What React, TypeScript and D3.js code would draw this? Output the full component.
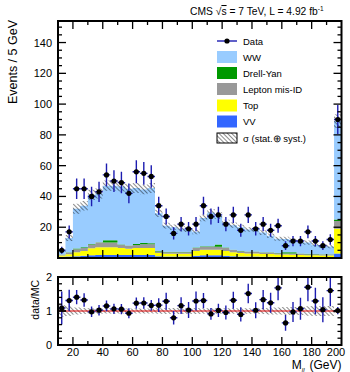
import React from 'react';
import * as d3 from 'd3';

// bin lower edges (5 GeV bins, last one 195-200)
const binLow = [10,15,20,25,30,35,40,45,50,55,60,65,70,75,80,85,90,95,100,105,110,115,120,125,130,135,140,145,150,155,160,165,170,175,180,185,190,195];
const binWidth = 5;

const dataCounts = [5,17,45,45,40,43,54,50,49,42,56,55,53,34,27,16,22,19,22,34,27,28,22,28,18,28,19,22,18,21,8,11,11,17,11,8,12,90];
const vvYield = [0.8,1,1.2,1.5,1.8,2,2,2,2,2,2,2,2,1.2,1,1,1,1,1.5,1.8,1.8,1.8,1.5,1.2,1,1,1,0.8,0.8,0.7,0.7,0.6,0.6,0.5,0.5,0.5,0.5,3];
const topYield = [0.8,1.5,2.5,3,4.5,5,5,5,4.5,4,4.5,4.5,4.5,2,1.8,1.8,1.8,1.8,3,3.5,3.5,3.5,3,2.5,2.2,2,2,1.8,1.8,1.6,1.5,1.5,1.4,1.3,1.3,1.2,1.2,16];
const misIdYield = [0.5,1,2,2,2.5,3,3,3,2,2,2,2.5,2.5,1,1,1,1,1,2,2,2,2,2,1.5,1.2,1,1,1,1,0.8,0.8,0.8,0.7,0.7,0.6,0.6,0.6,5];
const dyYield = [0.1,0.3,0.5,0.5,0.3,0.3,1.5,1.5,0.2,0.2,0.6,0.8,0.6,0.3,0.2,0.2,0.2,0.2,0.3,0.3,0.3,1.5,0.3,0.2,0.2,0.2,0.2,0.2,0.2,0.2,0.8,0.8,0.2,0.2,0.2,0.2,0.2,1];
const wwYield = [2.4,9.2,25.8,27,31.9,31.7,35.5,35.5,37.8,36.8,36.4,34.7,35.9,24.5,17,16,15,14.5,10.2,18.4,21.9,18.7,16.2,15.9,15.4,14.3,14.4,12.7,10.7,9.2,8.5,7.6,7.4,7.3,5.9,5.2,5.0,64];
const mcRelUnc = [0.17,0.15,0.1,0.09,0.08,0.08,0.07,0.07,0.07,0.07,0.07,0.07,0.07,0.08,0.09,0.09,0.09,0.09,0.09,0.08,0.08,0.08,0.08,0.08,0.08,0.08,0.08,0.09,0.1,0.1,0.12,0.12,0.12,0.14,0.15,0.15,0.15,0.05];

const xTickLabels = [20,40,60,80,100,120,140,160,180,200];
const yTickLabels = [20,40,60,80,100,120,140];
const ratioTickLabels = [0,1,2];

const processKeys = ['VV','Top','MisID','DY','WW'];
const processColors: Record<string,string> = {
  VV: '#3366ff', Top: '#ffff00', MisID: '#999999', DY: '#009900', WW: '#99ccff',
};
const legendLabels = ['Data','WW','Drell-Yan','Lepton mis-ID','Top','VV','σ (stat.⊕ syst.)'];
const legendKeys = ['Data','WW','DY','MisID','Top','VV','Unc'];

const FONT = '"Liberation Sans", Arial, Helvetica, sans-serif';
const ERR = '#1c1cb0';

export default function App() {
  const W = 350, H = 372;
  const L = 58, R = 341.5;
  const mainTop = 21, mainBot = 258;
  const ratTop = 277, ratBot = 345;

  const x = d3.scaleLinear().domain([10, 200]).range([L, R]);
  const y = d3.scaleLinear().domain([0, 154]).range([mainBot, mainTop]);
  const yr = d3.scaleLinear().domain([0, 2]).range([ratBot, ratTop]);

  const table = binLow.map((lo, i) => ({
    lo, hi: lo + binWidth,
    VV: vvYield[i], Top: topYield[i], MisID: misIdYield[i], DY: dyYield[i], WW: wwYield[i],
  }));
  const stacked = d3.stack<any>().keys(processKeys)(table);

  const stepArea = (lows: number[], highs: number[], ys: any) => {
    const pts: { x: number; a: number; b: number }[] = [];
    binLow.forEach((lo, i) => {
      pts.push({ x: lo, a: lows[i], b: highs[i] });
      pts.push({ x: lo + binWidth, a: lows[i], b: highs[i] });
    });
    return d3.area<any>().x(p => x(p.x)).y0(p => ys(p.a)).y1(p => ys(p.b))(pts) || '';
  };

  const totals = table.map((_, i) => stacked[stacked.length - 1][i][1]);
  const bandLow = totals.map((t, i) => t * (1 - mcRelUnc[i]));
  const bandHigh = totals.map((t, i) => t * (1 + mcRelUnc[i]));
  const ratio = dataCounts.map((d, i) => d / totals[i]);
  const ratioErr = dataCounts.map((d, i) => Math.sqrt(d) / totals[i]);

  const xTicks = d3.range(20, 200, 10);
  const yTicks = d3.range(5, 154, 5);
  const rTicks = d3.range(0.2, 2, 0.2);

  const tickLines = (top: number, bot: number, yScale: any, yT: number[], majorY: (v: number) => boolean) => (
    <g stroke="#000" strokeWidth={1.3}>
      {xTicks.map(v => {
        const len = v % 20 === 0 ? 8 : 4;
        return (
          <g key={'x' + v}>
            <line x1={x(v)} x2={x(v)} y1={bot} y2={bot - len} />
            <line x1={x(v)} x2={x(v)} y1={top} y2={top + len} />
          </g>
        );
      })}
      {yT.map(v => {
        const len = majorY(v) ? 8 : 4;
        return (
          <g key={'y' + v}>
            <line x1={L} x2={L + len} y1={yScale(v)} y2={yScale(v)} />
            <line x1={R} x2={R - len} y1={yScale(v)} y2={yScale(v)} />
          </g>
        );
      })}
    </g>
  );

  const legX = 217, legTextX = 243;
  const legY = [41, 57, 73, 89, 105.5, 121.5, 138];

  return (
    <svg width={W} height={H} style={{ position: 'absolute', left: 0, top: 0, background: '#fff' }} fontFamily={FONT}>
      <defs>
        <pattern id="hatch" width="3" height="3" patternUnits="userSpaceOnUse" patternTransform="rotate(-45)">
          <line x1="0" y1="0" x2="0" y2="3" stroke="#000" strokeWidth="0.9" />
        </pattern>
        <clipPath id="clipMain"><rect x={L} y={mainTop} width={R - L} height={mainBot - mainTop} /></clipPath>
        <clipPath id="clipRatio"><rect x={L} y={ratTop} width={R - L} height={ratBot - ratTop} /></clipPath>
      </defs>
      <rect x={0} y={0} width={W} height={H} fill="#fff" />

      {/* header */}
      <text x={190} y={15} fontSize={10.3} fill="#000">
        CMS <tspan>√</tspan><tspan textDecoration="overline">s</tspan> = 7 TeV, L = 4.92 fb<tspan dy={-4} fontSize={6.5}>-1</tspan>
      </text>

      {/* main stack */}
      <g clipPath="url(#clipMain)">
        {stacked.map(layer => (
          <path key={layer.key} d={stepArea(layer.map(d => d[0]), layer.map(d => d[1]), y)} fill={processColors[layer.key]} />
        ))}
        <path d={stepArea(bandLow, bandHigh, y)} fill="url(#hatch)" />
        {dataCounts.map((d, i) => {
          const cx = x(binLow[i] + binWidth / 2);
          const e = Math.sqrt(d);
          return (
            <g key={i}>
              <line x1={cx} x2={cx} y1={y(d - e)} y2={y(d + e)} stroke={ERR} strokeWidth={1.4} />
              <line x1={x(binLow[i])} x2={x(binLow[i] + binWidth)} y1={y(d)} y2={y(d)} stroke={ERR} strokeWidth={1.4} />
              <circle cx={cx} cy={y(d)} r={2.6} fill="#000" />
            </g>
          );
        })}
      </g>
      {tickLines(mainTop, mainBot, y, yTicks, v => v % 20 === 0)}
      <rect x={L} y={mainTop} width={R - L} height={mainBot - mainTop} fill="none" stroke="#000" strokeWidth={2} />
      {yTickLabels.map(v => (
        <text key={v} x={52} y={y(v) + 4} fontSize={11} textAnchor="end" fill="#000">{v}</text>
      ))}
      <text transform={`translate(17,20) rotate(-90)`} fontSize={12.5} textAnchor="end" fill="#000">Events / 5 GeV</text>

      {/* legend */}
      {legendKeys.map((k, i) => {
        const cy = legY[i];
        let sym;
        if (k === 'Data') {
          sym = (
            <g>
              <line x1={legX} x2={legX + 20} y1={cy} y2={cy} stroke={ERR} strokeWidth={1.4} />
              <circle cx={legX + 10} cy={cy} r={2.6} fill="#000" />
            </g>
          );
        } else if (k === 'Unc') {
          sym = <rect x={legX} y={cy - 5} width={20} height={10} fill="url(#hatch)" stroke="#000" strokeWidth={1} />;
        } else {
          sym = <rect x={legX} y={cy - 6} width={20} height={12} fill={processColors[k]} />;
        }
        return (
          <g key={k}>
            {sym}
            <text x={legTextX} y={cy + 3.5} fontSize={9.5} fill="#000">{legendLabels[i]}</text>
          </g>
        );
      })}

      {/* ratio panel */}
      <g clipPath="url(#clipRatio)">
        <path d={stepArea(mcRelUnc.map(r => 1 - r), mcRelUnc.map(r => 1 + r), yr)} fill="url(#hatch)" />
        <line x1={L} x2={R} y1={yr(1)} y2={yr(1)} stroke="#e00000" strokeWidth={1} />
        {ratio.map((r, i) => {
          const cx = x(binLow[i] + binWidth / 2);
          const e = ratioErr[i];
          return (
            <g key={i}>
              <line x1={cx} x2={cx} y1={yr(r - e)} y2={yr(r + e)} stroke={ERR} strokeWidth={1.4} />
              <line x1={x(binLow[i])} x2={x(binLow[i] + binWidth)} y1={yr(r)} y2={yr(r)} stroke={ERR} strokeWidth={1.4} />
              <circle cx={cx} cy={yr(r)} r={2.6} fill="#000" />
            </g>
          );
        })}
      </g>
      {tickLines(ratTop, ratBot, yr, rTicks.concat([1]), v => Math.abs(v - 1) < 1e-6)}
      <rect x={L} y={ratTop} width={R - L} height={ratBot - ratTop} fill="none" stroke="#000" strokeWidth={2} />
      {ratioTickLabels.map(v => (
        <text key={v} x={52} y={yr(v) + 4} fontSize={11} textAnchor="end" fill="#000">{v}</text>
      ))}
      {xTickLabels.map(v => (
        <text key={v} x={Math.min(x(v), 336)} y={356} fontSize={11} textAnchor="middle" fill="#000">{v}</text>
      ))}
      <text transform={`translate(39,280) rotate(-90)`} fontSize={10.5} textAnchor="end" fill="#000">data/MC</text>
      <text x={R} y={369} fontSize={12} textAnchor="end" fill="#000">
        M<tspan dy={3} fontSize={6} fontStyle="italic">ll</tspan><tspan dy={-3} dx={5}>(GeV)</tspan>
      </text>
    </svg>
  );
}
